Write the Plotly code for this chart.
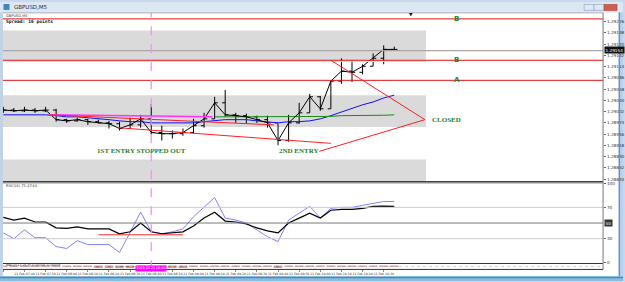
import plotly.graph_objects as go

# ---------------- data ----------------
bar_idx = list(range(38))
open_ = [1.29004, 1.29006, 1.29004, 1.29006, 1.29004, 1.29006, 1.28982, 1.28979, 1.28982, 1.28977,
         1.28974, 1.28972, 1.28960, 1.28969, 1.28984, 1.28950, 1.28947, 1.28947, 1.28950, 1.28967,
         1.28984, 1.29024, 1.28994, 1.28992, 1.28989, 1.28982, 1.28974, 1.28930, 1.28974, 1.28999,
         1.29039, 1.29009, 1.29078, 1.29103, 1.29100, 1.29115, 1.29135, 1.29157]
high = [1.29014, 1.29011, 1.29014, 1.29011, 1.29014, 1.29009, 1.28984, 1.28987, 1.28984, 1.28982,
        1.28979, 1.28977, 1.28987, 1.28994, 1.29021, 1.28967, 1.28955, 1.28960, 1.28984, 1.28999,
        1.29039, 1.29056, 1.28999, 1.28997, 1.28992, 1.28992, 1.28972, 1.28994, 1.29024, 1.29046,
        1.29041, 1.29080, 1.29135, 1.29130, 1.29120, 1.29147, 1.29167, 1.29164]
low = [1.28999, 1.29001, 1.29001, 1.28999, 1.29001, 1.28977, 1.28974, 1.28977, 1.28969, 1.28972,
       1.28960, 1.28955, 1.28960, 1.28962, 1.28945, 1.28930, 1.28935, 1.28942, 1.28947, 1.28962,
       1.28984, 1.28989, 1.28974, 1.28972, 1.28974, 1.28962, 1.28918, 1.28927, 1.28972, 1.28999,
       1.29004, 1.29009, 1.29071, 1.29076, 1.29095, 1.29115, 1.29120, 1.29154]
close = [1.29006, 1.29004, 1.29006, 1.29004, 1.29006, 1.28982, 1.28979, 1.28982, 1.28977, 1.28974,
         1.28972, 1.28960, 1.28969, 1.28984, 1.28950, 1.28947, 1.28947, 1.28950, 1.28967, 1.28984,
         1.29024, 1.28994, 1.28992, 1.28989, 1.28982, 1.28974, 1.28930, 1.28974, 1.28999, 1.29039,
         1.29009, 1.29078, 1.29103, 1.29100, 1.29115, 1.29135, 1.29157, 1.29157]
ma_blue = [1.28994, 1.28994, 1.28994, 1.28994, 1.28994, 1.28992, 1.28989, 1.28989, 1.28987, 1.28984,
           1.28982, 1.28979, 1.28977, 1.28977, 1.28974, 1.28974, 1.28974, 1.28974, 1.28974, 1.28977,
           1.28979, 1.28982, 1.28982, 1.28982, 1.28979, 1.28977, 1.28974, 1.28977, 1.28977, 1.28979,
           1.28984, 1.28992, 1.29001, 1.29009, 1.29019, 1.29026, 1.29036, 1.29043]
green_idx = list(range(20, 38))
ma_green = [1.28989, 1.28989, 1.28989, 1.28989, 1.28989, 1.28989, 1.28990, 1.28990, 1.28990,
            1.28990, 1.28990, 1.28990, 1.28992, 1.28992, 1.28992, 1.28992, 1.28993, 1.28994]
rsi14 = [57.1, 53.8, 56.3, 51.3, 51.3, 43.8, 43.1, 45.0, 42.5, 42.5, 42.5, 36.3, 38.8, 50.0,
         38.8, 36.3, 37.5, 38.8, 46.3, 56.3, 63.8, 52.5, 51.3, 48.8, 43.8, 40.0, 37.5, 50.0,
         56.3, 62.5, 56.3, 66.3, 67.5, 67.5, 68.8, 71.3, 71.6, 71.27]
rsi_fast = [37.5, 30.0, 41.3, 31.3, 31.3, 20.0, 17.5, 27.5, 22.5, 22.5, 22.5, 12.5, 38.8, 63.8,
            38.8, 36.3, 38.8, 42.5, 58.0, 70.0, 82.5, 56.3, 53.8, 50.0, 41.3, 32.5, 26.3, 53.8,
            62.5, 71.3, 56.3, 68.8, 70.0, 70.0, 72.5, 75.0, 77.5, 77.5]
macd_hist = [0.2, 0.2, 0.2, 0.1, 0.1, -0.2, -0.3, -0.3, -0.3, -0.4, -0.4, -0.5, -0.5, -0.3,
             -0.5, -0.6, -0.6, -0.5, -0.3, 0.2, 0.5, 0.4, 0.3, 0.2, 0.1, -0.2, -0.5, -0.3,
             0.1, 0.4, 0.3, 0.6, 0.7, 0.7, 0.7, 0.8, 0.8, 0.8]

price_ticks = [1.29226, 1.29198, 1.29170, 1.29142, 1.29114, 1.29086, 1.29058, 1.29030,
               1.29002, 1.28974, 1.28946, 1.28918, 1.28890, 1.28862, 1.28834]
time_tick_idx = list(range(0, 38, 2))
time_labels = ["21 Feb 2019", "21 Feb 07:40", "21 Feb 07:50", "21 Feb 08:00", "21 Feb 08:10",
               "21 Feb 08:20", "21 Feb 08:30", "21 Feb 08:40", "21 Feb 08:50", "21 Feb 09:00",
               "21 Feb 09:10", "21 Feb 09:20", "21 Feb 09:30", "21 Feb 09:40", "21 Feb 09:50",
               "21 Feb 10:00", "21 Feb 10:10", "21 Feb 10:20", "21 Feb 10:30"]
level_prices = [1.29233, 1.29130, 1.29080]
level_names = ["B", "B", "A"]
zones = [(1.29204, 1.29130), (1.29043, 1.28964), (1.28883, 1.28829)]
zone_end_idx = 40
rsi_levels = [70, 50, 30]
rsi_level_colors = ["#cccccc", "#7a7a7a", "#cccccc"]
bid = 1.29154
entry_idx = 14

# ---------------- helpers ----------------
W, H = 625, 282
def px(x): return x / W
def py(y): return 1 - y / H

fig = go.Figure()
fig.add_trace(go.Scatter(x=bar_idx, y=ma_blue, mode="lines", line=dict(color="#1010ff", width=1),
                         xaxis="x", yaxis="y", hoverinfo="skip"))
fig.add_trace(go.Scatter(x=green_idx, y=ma_green, mode="lines", line=dict(color="#1a8a1a", width=1),
                         xaxis="x", yaxis="y", hoverinfo="skip"))
fig.add_trace(go.Ohlc(x=bar_idx, open=open_, high=high, low=low, close=close, tickwidth=0.3,
                      increasing=dict(line=dict(color="black", width=1)),
                      decreasing=dict(line=dict(color="black", width=1)),
                      xaxis="x", yaxis="y", hoverinfo="skip"))
fig.add_trace(go.Scatter(x=bar_idx, y=close, mode="lines", line=dict(color="black", width=1),
                         xaxis="x", yaxis="y", hoverinfo="skip"))
fig.add_trace(go.Scatter(x=bar_idx, y=rsi_fast, mode="lines", line=dict(color="#8080ff", width=1),
                         xaxis="x", yaxis="y2", hoverinfo="skip"))
fig.add_trace(go.Scatter(x=bar_idx, y=rsi14, mode="lines", line=dict(color="black", width=1.2),
                         xaxis="x", yaxis="y2", hoverinfo="skip"))
fig.add_trace(go.Bar(x=bar_idx, y=macd_hist, marker=dict(color="#8b2a2a", line=dict(width=0)),
                     opacity=0.7, width=0.8, xaxis="x", yaxis="y3", hoverinfo="skip"))

shapes = []
def prect(x0, y0, x1, y1, color, line=None):
    shapes.append(dict(type="rect", xref="paper", yref="paper", x0=px(x0), x1=px(x1),
                       y0=py(y1), y1=py(y0), fillcolor=color, layer="below",
                       line=dict(width=0) if line is None else line))
def pline(x0, y0, x1, y1, color, width=1, dash="solid"):
    shapes.append(dict(type="line", xref="paper", yref="paper", x0=px(x0), x1=px(x1),
                       y0=py(y0), y1=py(y1), line=dict(color=color, width=width, dash=dash)))

# window frame
prect(0, 0, 625, 10.5, "#dce7f4")
prect(0, 10.5, 3, 277, "#c3d3e6")
prect(620, 10.5, 625, 277, "#b9d0ea")
prect(0, 277, 625, 282, "#8cbbe0")
prect(3, 10.5, 620, 277, "white")
prect(3.5, 2, 9.5, 8, "#3f86c6")
prect(586, 2.5, 596, 8.5, "#dfe8f3", dict(color="#8aa3c0", width=0.6))
prect(596, 2.5, 606, 8.5, "#dfe8f3", dict(color="#8aa3c0", width=0.6))
prect(606, 2.5, 619, 8.5, "#d25b4f", dict(color="#a33a30", width=0.6))
pline(0, 278.5, 625, 278.5, "#3b8ec4", 1.2)
pline(621.5, 10.5, 621.5, 277, "#4e98cc", 1)

# zones
for top, bot in zones:
    shapes.append(dict(type="rect", xref="x", yref="y", x0=-0.03, x1=zone_end_idx, y0=bot, y1=top,
                       fillcolor="#dadada", line=dict(width=0), layer="below"))
shapes.append(dict(type="line", xref="x", yref="y", x0=-0.03, x1=zone_end_idx, y0=1.29127, y1=1.29127,
                   line=dict(color="#a6f2f2", width=1)))
# bid line
shapes.append(dict(type="line", xref="x domain", yref="y", x0=0, x1=1, y0=bid, y1=bid,
                   line=dict(color="#a8a8a8", width=1.2)))
# red levels
for lv in level_prices:
    shapes.append(dict(type="line", xref="x domain", yref="y", x0=0, x1=1, y0=lv, y1=lv,
                       line=dict(color="#e01010", width=1)))
# trend lines
def dline(x0, y0, x1, y1, color, width=1):
    shapes.append(dict(type="line", xref="x", yref="y", x0=x0, x1=x1, y0=y0, y1=y1,
                       line=dict(color=color, width=width)))
dline(4.4, 1.28994, 19.8, 1.28989, "#ff33ff", 1.5)
dline(4.4, 1.28994, 25.6, 1.28969, "#ff2020", 1)
dline(10.8, 1.28962, 31.0, 1.28923, "#ff2020", 1)
dline(31.0, 1.29130, 39.9, 1.28982, "#ff2020", 1)
dline(39.9, 1.28982, 29.9, 1.28903, "#ff2020", 1)

# RSI levels
for lv, c in zip(rsi_levels, rsi_level_colors):
    shapes.append(dict(type="line", xref="x domain", yref="y2", x0=0, x1=1, y0=lv, y1=lv,
                       line=dict(color=c, width=1)))
shapes.append(dict(type="line", xref="x", yref="y2", x0=9, x1=17, y0=35, y1=35,
                   line=dict(color="#ff3030", width=1)))

# panel borders
pline(3, 11, 605, 11, "#9a9a9a", 0.8)
pline(3, 181.5, 605, 181.5, "#333333", 1)
pline(3, 182.8, 605, 182.8, "#333333", 0.8)
pline(3, 264.3, 605, 264.3, "#333333", 1)
pline(3, 270.3, 605, 270.3, "#333333", 1)
pline(605, 11, 605, 270.3, "#777777", 1)
pline(3, 267.5, 605, 267.5, "#c4c4c4", 0.8, "dot")

# entry vertical
shapes.append(dict(type="line", xref="x", yref="paper", x0=entry_idx, x1=entry_idx,
                   y0=py(270), y1=py(11), line=dict(color="#ff88ff", width=1.3, dash="dash")))

ann = []
def ptext(x, y, text, size, color="#222", family="DejaVu Sans", xanchor="left", **kw):
    ann.append(dict(xref="paper", yref="paper", x=px(x), y=py(y), text=text, showarrow=False,
                    xanchor=xanchor, yanchor="middle", font=dict(size=size, color=color, family=family), **kw))

ptext(12, 5.2, "GBPUSD,M5", 5.5, "#1e2a3a")
ptext(4.5, 14.2, "GBPUSD,M5", 3.6, "#333")
ptext(4.5, 19.4, "<b>Spread: 16 points</b>", 4.6, "#111", "DejaVu Sans Mono")
ptext(4.5, 185.5, "RSI(14) 71.2744", 3.8, "#333")
ptext(4.5, 266.2, "MACD(12,26,9) 0.00006 0.00004", 3.3, "#333")
ptext(412.5, 13, "▼", 4.5, "#111", xanchor="center")
ptext(605.5, 49, "1.29154", 4.2, "white", xanchor="left", bgcolor="#111111", borderpad=0.5)
ptext(605.5, 223, "50", 4.2, "white", xanchor="left", bgcolor="#333333", borderpad=0.5)

green = "#2a7d2a"
for lv, nm in zip(level_prices, level_names):
    ann.append(dict(xref="x", yref="y", x=42.9, y=lv, text="<b>%s</b>" % nm, showarrow=False,
                    font=dict(size=7, color=green, family="DejaVu Sans")))
for xi, yv, t in [(13.1, 1.28905, "1ST ENTRY STOPPED OUT"), (28.0, 1.28905, "2ND ENTRY"),
                  (41.9, 1.28982, "CLOSED")]:
    ann.append(dict(xref="x", yref="y", x=xi, y=yv, text="<b>%s</b>" % t, showarrow=False,
                    font=dict(size=7, color=green, family="Liberation Serif")))
ann.append(dict(xref="x", yref="paper", x=entry_idx, y=py(273.3), text="2019.02.21 08:40",
                showarrow=False, font=dict(size=3.3, color="white", family="DejaVu Sans"),
                bgcolor="#ff00ff", borderpad=0.3))

fig.update_layout(
    width=W, height=H, margin=dict(l=0, r=0, t=0, b=0),
    paper_bgcolor="#c9d8ea", plot_bgcolor="rgba(0,0,0,0)", showlegend=False,
    shapes=shapes, annotations=ann,
    xaxis=dict(domain=[px(3), px(605)], range=[-0.03, 56.76], anchor="y3",
               tickvals=time_tick_idx, ticktext=time_labels, tickangle=0,
               tickfont=dict(size=3.1, color="#333", family="DejaVu Sans"),
               ticks="outside", ticklen=1.5, tickcolor="#888",
               showgrid=False, zeroline=False, showline=False,
               rangeslider=dict(visible=False), fixedrange=True),
    yaxis=dict(domain=[py(181), py(11)], range=[1.28829, 1.29248], side="right", anchor="x",
               tickvals=price_ticks, ticktext=["%.5f" % v for v in price_ticks],
               tickfont=dict(size=4.2, color="#333", family="DejaVu Sans"),
               ticks="outside", ticklen=2, tickcolor="#666",
               showgrid=False, zeroline=False, showline=False),
    yaxis2=dict(domain=[py(264), py(182.8)], range=[-1.25, 101.25], side="right", anchor="x",
                tickvals=[0, 30, 70, 100], ticktext=["0", "30", "70", "100"],
                tickfont=dict(size=4.2, color="#333", family="DejaVu Sans"),
                ticks="outside", ticklen=2, tickcolor="#666",
                showgrid=False, zeroline=False, showline=False),
    yaxis3=dict(domain=[py(270), py(264.5)], range=[-3, 3], anchor="x", visible=False),
)

fig.write_html("out.html")
